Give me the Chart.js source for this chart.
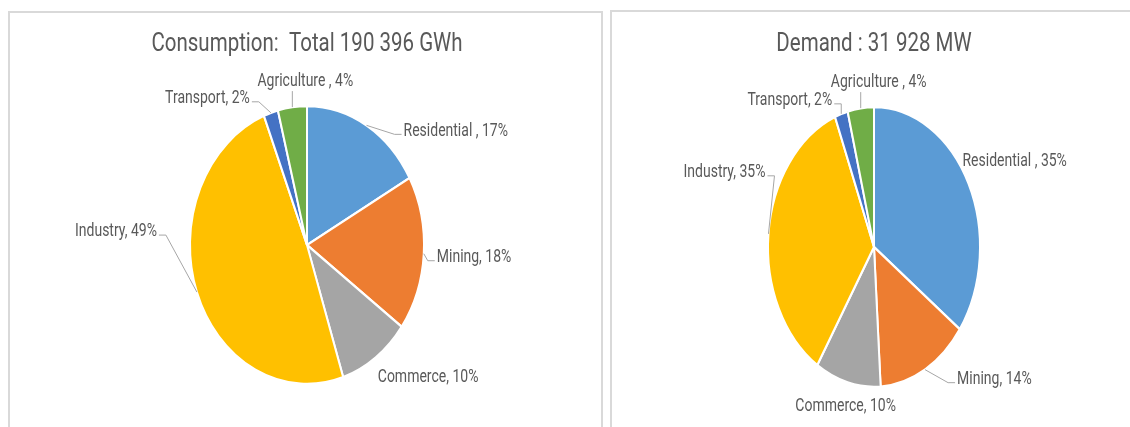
<!DOCTYPE html>
<html>
<head>
<meta charset="utf-8">
<script src="https://cdn.jsdelivr.net/npm/chart.js@4.4.1/dist/chart.umd.min.js"></script>
<style>
    html, body { margin: 0; padding: 0; background: #fff; overflow: hidden; }
    body { width: 1130px; height: 427px; position: relative; }
    .panel { position: absolute; border: 2px solid #d9d9d9; box-sizing: border-box; background: #fff; }
    #leftPanel { left: 8px; top: 11px; width: 595px; height: 440px; }
    #rightPanel { left: 610px; top: 10px; width: 540px; height: 440px; }
    canvas { display: block; }
</style>
</head>
<body>
<div class="panel" id="leftPanel"><canvas id="consumptionChart" width="591" height="426"></canvas></div>
<div class="panel" id="rightPanel"><canvas id="demandChart" width="518" height="415"></canvas></div>
<script>
// Categories in clockwise order from 12 o'clock (names as printed in the labels)
const categories = ['Residential ', 'Mining', 'Commerce', 'Industry', 'Transport', 'Agriculture '];
const consumptionShares = [17, 18, 10, 49, 2, 4]; // % of 190 396 GWh
const demandShares = [35, 14, 10, 35, 2, 4];      // % of 31 928 MW
const sliceColors = ['#5B9BD5', '#ED7D31', '#A5A5A5', '#FFC000', '#4472C4', '#70AD47'];

const textColor = '#595959';
const leaderColor = '#A6A6A6';

// label placement relative to the slice edge (dx, dy) and whether a leader line is drawn
const consumptionLabelLayout = [
    { dx: 37, dy: 6, line: true },
    { dx: 13, dy: 4, line: true },
    { dx: 2, dy: 20, line: false },
    { dx: -40, dy: -60, line: true },
    { dx: -21, dy: -14, line: true },
    { dx: 13, dy: -25, line: true }
];
const demandLabelLayout = [
    { dx: -6, dy: -22, line: false },
    { dx: 32, dy: 10, line: true },
    { dx: -2, dy: 24, line: false },
    { dx: -3, dy: -61, line: true },
    { dx: -9, dy: -13, line: true },
    { dx: 18, dy: -25, line: true }
];

// Squash the round pie into the tall ellipse of the original and draw the Excel-style labels
const ellipsePie = {
    id: 'ellipsePie',
    beforeDatasetsDraw(chart, args, opts) {
        const arc = chart.getDatasetMeta(0).data[0];
        const ctx = chart.ctx;
        ctx.save();
        ctx.translate(arc.x, arc.y);
        ctx.scale(1, opts.stretch);
        ctx.translate(-arc.x, -arc.y);
    },
    afterDatasetsDraw(chart) {
        chart.ctx.restore();
    },
    afterDraw(chart, args, opts) {
        const ctx = chart.ctx;
        const meta = chart.getDatasetMeta(0);
        const values = chart.data.datasets[0].data;
        const k = opts.stretch;

        function stretchedText(text, x, y, size, align) {
            ctx.save();
            ctx.font = size + 'px Roboto, sans-serif';
            ctx.fillStyle = textColor;
            ctx.textAlign = align;
            ctx.textBaseline = 'middle';
            ctx.translate(x, y);
            ctx.scale(1, opts.textStretch);
            ctx.fillText(text, 0, 0);
            ctx.restore();
        }

        // title
        const cx = meta.data[0].x;
        stretchedText(opts.title, cx, opts.titleY, 20.5, 'center');

        meta.data.forEach(function (arc, i) {
            const mid = (arc.startAngle + arc.endAngle) / 2;
            const ex = arc.x + arc.outerRadius * Math.cos(mid);
            const ey = arc.y + k * arc.outerRadius * Math.sin(mid);
            const lay = opts.layout[i];
            const ax = ex + lay.dx;
            const ay = ey + lay.dy;
            const c = Math.cos(mid);
            const align = c > 0.3 ? 'left' : (c < -0.3 ? 'right' : 'center');

            if (lay.line) {
                ctx.save();
                ctx.strokeStyle = leaderColor;
                ctx.lineWidth = 1;
                ctx.beginPath();
                ctx.moveTo(ex, ey);
                if (align === 'left') {
                    ctx.lineTo(ax - 9, ay + 3);
                    ctx.lineTo(ax - 2, ay + 3);
                } else if (align === 'right') {
                    ctx.lineTo(ax + 9, ay + 3);
                    ctx.lineTo(ax + 2, ay + 3);
                } else {
                    ctx.lineTo(ex, ay + 9);
                }
                ctx.stroke();
                ctx.restore();
            }
            stretchedText(categories[i] + ', ' + values[i] + '%', ax, ay, 14, align);
        });
    }
};

function makePie(canvasId, shares, radius, stretch, padding, title, titleY, layout) {
    const ctx = document.getElementById(canvasId);
    if (!ctx) return;
    new Chart(ctx, {
        type: 'pie',
        data: {
            labels: categories,
            datasets: [{
                data: shares,
                backgroundColor: sliceColors,
                borderColor: '#ffffff',
                borderWidth: 2
            }]
        },
        options: {
            responsive: false,
            animation: false,
            radius: radius,
            layout: { padding: padding },
            plugins: {
                legend: { display: false },
                tooltip: { enabled: false },
                ellipsePie: {
                    stretch: stretch,
                    textStretch: 1.25,
                    title: title,
                    titleY: titleY,
                    layout: layout
                }
            }
        },
        plugins: [ellipsePie]
    });
}

makePie('consumptionChart', consumptionShares, 117, 139 / 117,
    { left: 3, right: 0, top: 48, bottom: 10 },
    'Consumption:  Total 190 396 GWh', 32, consumptionLabelLayout);

makePie('demandChart', demandShares, 106, 140 / 106,
    { left: 6, right: 0, top: 60, bottom: 5 },
    'Demand : 31 928 MW', 33, demandLabelLayout);
</script>
</body>
</html>
